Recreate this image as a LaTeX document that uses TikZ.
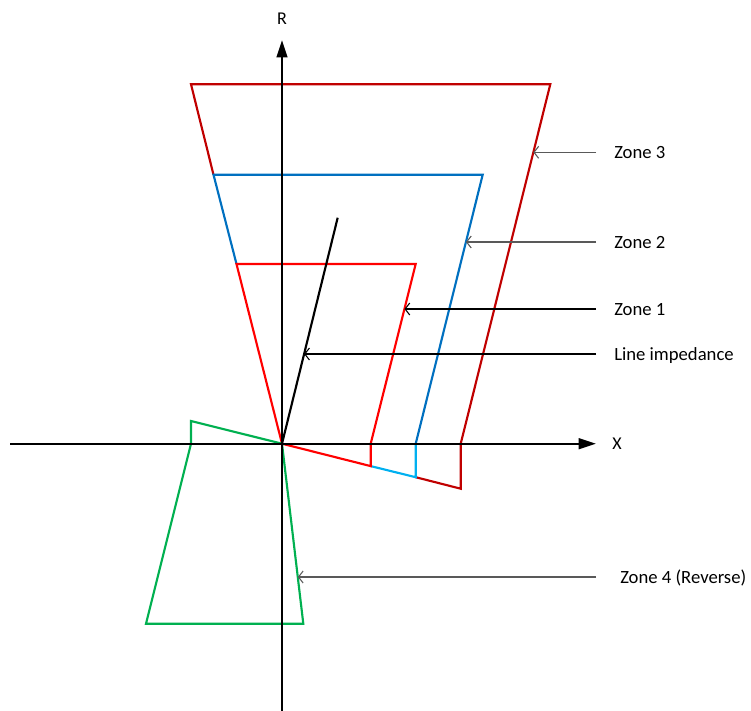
\documentclass[tikz,border=0pt]{standalone}
\usepackage{fontspec}
\setmainfont{Carlito}
\usetikzlibrary{arrows.meta}
\definecolor{zonethree}{RGB}{192,0,0}
\definecolor{zonetwo}{RGB}{0,112,192}
\definecolor{zonetwolow}{RGB}{0,176,240}
\definecolor{zoneone}{RGB}{255,0,0}
\definecolor{zonefour}{RGB}{0,176,80}
\definecolor{pointergray}{RGB}{89,89,89}
\begin{document}
\begin{tikzpicture}[x=0.75pt, y=-0.75pt,
        axis/.style={line width=1.8pt, -{Triangle[length=13pt,width=8pt]}},
        zone/.style={line width=1.6pt},
        pointer/.style={line width=0.8pt, -{Straight Barb[length=3.5pt,width=9pt]}, shorten <=13.5pt},
        zlabel/.style={anchor=west, inner sep=0pt, text height=9pt, text depth=0pt,
                       font=\fontsize{14}{16}\selectfont},
        alabel/.style={font=\fontsize{13.5}{16}\selectfont}]
      \useasboundingbox (0,0) rectangle (751,711);

      \coordinate (O) at (282,443.7);
      \coordinate (z3a) at (191,84.3);
      \coordinate (z3b) at (550.3,84.3);
      \coordinate (z3c) at (460.7,443.7);
      \coordinate (z3d) at (460.7,488.7);
      \coordinate (z2a) at (213.5,174.7);
      \coordinate (z2b) at (482.7,174.7);
      \coordinate (z2c) at (415.7,443.7);
      \coordinate (z2d) at (415.7,477.2);
      \coordinate (z1a) at (236.5,264);
      \coordinate (z1b) at (415.7,264);
      \coordinate (z1c) at (370.7,443.7);
      \coordinate (z1d) at (370.7,466.1);
      \coordinate (z4a) at (191,421);
      \coordinate (z4b) at (191,443.7);
      \coordinate (z4c) at (146,623.7);
      \coordinate (z4d) at (303.3,623.7);
      \coordinate (zl) at (337.7,217.7);

      \draw[zone, zonethree] (z2a) -- (z3a) -- (z3b) -- (z3c) -- (z3d) -- (z2d);
      \draw[zone, zonetwo] (z1a) -- (z2a) -- (z2b) -- (z2c);
      \draw[zone, zonetwolow] (z2c) -- (z2d) -- (z1d);
      \draw[zone, zoneone] (O) -- (z1a) -- (z1b) -- (z1c) -- (z1d) -- cycle;
      \draw[zone, zonefour] (O) -- (z4a) -- (z4b) -- (z4c) -- (z4d) -- cycle;
      \draw[zone, black] (O) -- (zl);

      \coordinate (xl) at (10,443.7);
      \coordinate (xr) at (596,443.7);
      \coordinate (yb) at (282,711);
      \coordinate (yt) at (282,40);
      \draw[axis] (xl) -- (xr);
      \draw[axis] (yb) -- (yt);
      \node[alabel] (R) at (282,19) {R};
      \node[alabel] (X) at (617,443.7) {X};

      \coordinate (t3) at (533.3,152.3);
      \coordinate (t2) at (465.9,242);
      \coordinate (t1) at (404.4,309);
      \coordinate (tl) at (304.1,354);
      \coordinate (t4) at (297.8,577);
      \node[zlabel] (l3) at (614,152.3) {Zone 3};
      \node[zlabel] (l2) at (614,242) {Zone 2};
      \node[zlabel] (l1) at (614,309) {Zone 1};
      \node[zlabel] (ll) at (614,354) {Line impedance};
      \node[zlabel] (l4) at (620,577) {Zone 4 (Reverse)};

      \draw[pointer, pointergray] (l3) -- (t3);
      \draw[pointer, pointergray] (l2) -- (t2);
      \draw[pointer, black] (l1) -- (t1);
      \draw[pointer, black] (ll) -- (tl);
      \draw[pointer, pointergray, shorten <=18pt] (l4) -- (t4);
    \end{tikzpicture}
\end{document}
